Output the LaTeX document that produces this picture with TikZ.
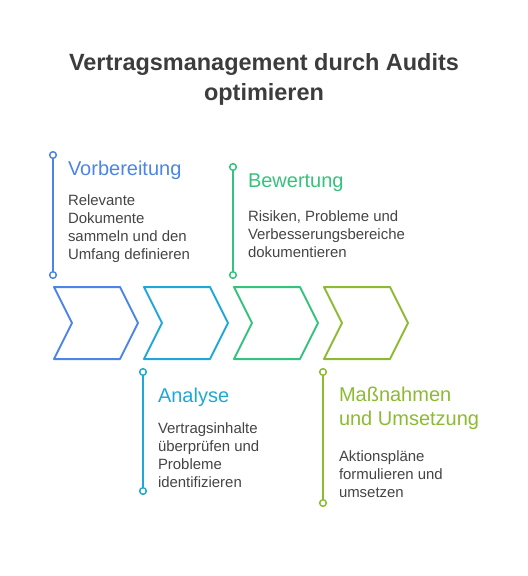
\documentclass[tikz,border=0pt]{standalone}
\usepackage{fontspec}
\setmainfont{Liberation Sans}
\usetikzlibrary{positioning}

\definecolor{prepblue}{HTML}{4C84E8}
\definecolor{anacyan}{HTML}{1FA8D7}
\definecolor{evalgreen}{HTML}{35C27C}
\definecolor{actolive}{HTML}{8CBA33}
\definecolor{headgray}{HTML}{3C3C3C}
\definecolor{bodygray}{HTML}{444444}

\begin{document}
\begin{tikzpicture}[
    x=0.75pt, y=-0.75pt,
    every node/.style={inner sep=0pt, outer sep=0pt},
    headline/.style={font=\fontsize{17.6}{22.5}\selectfont\bfseries, text=headgray, align=center},
    phase/.style={font=\fontsize{15}{17.5}\selectfont, anchor=base west, align=left},
    body/.style={font=\fontsize{11.2}{13.3}\selectfont, text=bodygray, anchor=base west, align=left},
    chev/.style={line width=1.5pt, line join=round},
    pin/.style={line width=1.5pt},
    dot/.style={circle, draw, fill=white, line width=1.1pt, minimum size=5pt}
]
\useasboundingbox (0,0) rectangle (528,576);

% title
\node[headline] (title) at (264,79) {Vertragsmanagement durch Audits\\optimieren};

% chevrons
\draw[chev, prepblue] (54,287) -- (120,287) -- (138,323) -- (120,359) -- (54,359) -- (72,323) -- cycle;
\draw[chev, anacyan] (144,287) -- (210,287) -- (228,323) -- (210,359) -- (144,359) -- (162,323) -- cycle;
\draw[chev, evalgreen] (234,287) -- (300,287) -- (318,323) -- (300,359) -- (234,359) -- (252,323) -- cycle;
\draw[chev, actolive] (324,287) -- (390,287) -- (408,323) -- (390,359) -- (324,359) -- (342,323) -- cycle;

% pins
\node[dot, draw=prepblue] (prep top) at (53,155) {};
\node[dot, draw=prepblue] (prep bot) at (53,275) {};
\draw[pin, prepblue] (prep top) -- (prep bot);
\node[dot, draw=evalgreen] (eval top) at (233,167) {};
\node[dot, draw=evalgreen] (eval bot) at (233,275) {};
\draw[pin, evalgreen] (eval top) -- (eval bot);
\node[dot, draw=anacyan] (ana top) at (143,372) {};
\node[dot, draw=anacyan] (ana bot) at (143,491) {};
\draw[pin, anacyan] (ana top) -- (ana bot);
\node[dot, draw=actolive] (act top) at (323,372) {};
\node[dot, draw=actolive] (act bot) at (323,503) {};
\draw[pin, actolive] (act top) -- (act bot);

% texts (base = last line)
\node[phase, text=prepblue] (prep) at (68,175) {Vorbereitung};
\node[body] (prep text) at (68,259) {Relevante\\Dokumente\\sammeln und den\\Umfang definieren};
\node[phase, text=evalgreen] (eval) at (248,187) {Bewertung};
\node[body] (eval text) at (248,257) {Risiken, Probleme und\\Verbesserungsbereiche\\dokumentieren};
\node[phase, text=anacyan] (ana) at (158,402) {Analyse};
\node[body] (ana text) at (158,487) {Vertragsinhalte\\überprüfen und\\Probleme\\identifizieren};
\node[phase, text=actolive] (act) at (339,425) {Maßnahmen\\und Umsetzung};
\node[body] (act text) at (339,497) {Aktionspläne\\formulieren und\\umsetzen};
\end{tikzpicture}
\end{document}
